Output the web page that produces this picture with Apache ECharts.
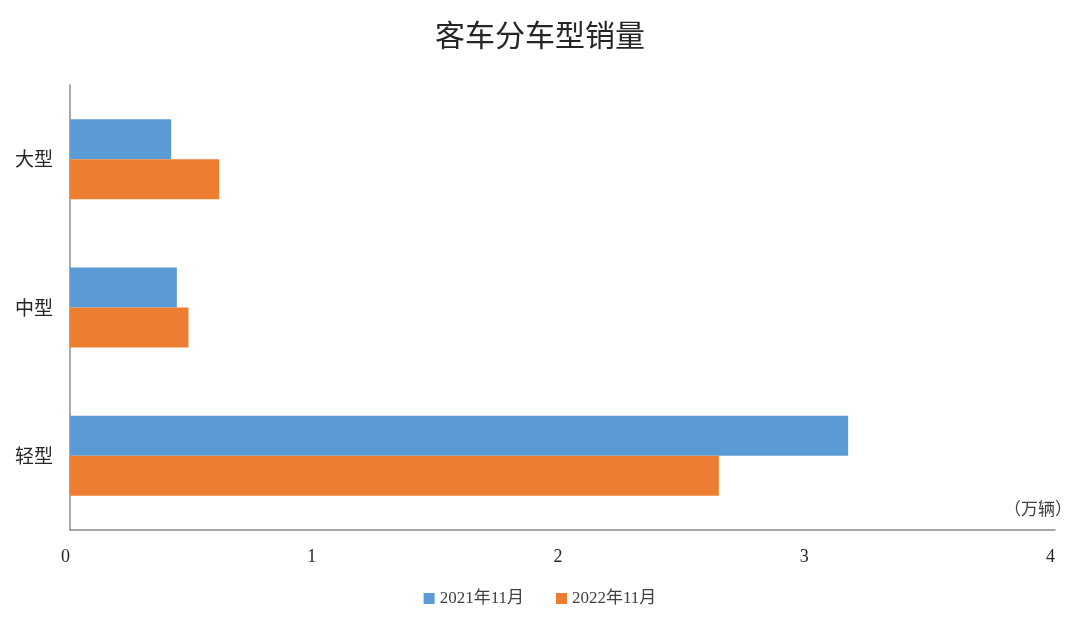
<!DOCTYPE html>
<html><head><meta charset="utf-8">
<script src="https://cdn.jsdelivr.net/npm/echarts@6/dist/echarts.min.js"></script>
<style>html,body{margin:0;padding:0;background:#fff}#c{width:1080px;height:622px}</style>
</head><body><div id="c"></div>
<script>
const categories = ['轻型', '中型', '大型'];
const series2021 = [3.16, 0.434, 0.411];
const series2022 = [2.635, 0.481, 0.606];
const seriesNames = ['2021年11月', '2022年11月'];
const xTicks = [0, 1, 2, 3, 4];

const FONT = '"Liberation Serif", "Noto Sans CJK SC", serif';
const chart = echarts.init(document.getElementById('c'));
chart.setOption({
  animation: false,
  backgroundColor: '#fff',
  title: {
    text: '客车分车型销量', left: 'center', top: 15,
    textStyle: { fontFamily: '"Noto Sans CJK SC"', fontSize: 30, fontWeight: 'normal', color: '#262626' }
  },
  legend: {
    bottom: 10, left: 'center', itemWidth: 11, itemHeight: 11, itemGap: 32,
    icon: 'rect',
    textStyle: { fontFamily: FONT, fontSize: 17, color: '#404040' },
    data: seriesNames
  },
  grid: { left: 70, right: 25, top: 85, bottom: 92 },
  xAxis: {
    type: 'value', min: xTicks[0], max: xTicks[xTicks.length - 1], interval: 1,
    axisLine: { show: true, lineStyle: { color: '#8c8c8c', width: 1.5 } },
    axisTick: { show: false },
    splitLine: { show: false },
    axisLabel: { margin: 18, fontFamily: FONT, fontSize: 18, color: '#262626', align: 'right' }
  },
  yAxis: {
    type: 'category', data: categories,
    axisLine: { show: true, lineStyle: { color: '#8c8c8c', width: 1.5 } },
    axisTick: { show: false },
    axisLabel: { margin: 17, fontFamily: '"Noto Sans CJK SC"', fontSize: 19, color: '#262626' }
  },
  graphic: [{
    type: 'text', right: 8, top: 500,
    style: { text: '（万辆）', font: '17px "Noto Sans CJK SC"', fill: '#404040' }
  }],
  series: [
    { name: seriesNames[0], type: 'bar', data: series2021, barWidth: 40, barGap: '0%',
      itemStyle: { color: '#5B9BD5' } },
    { name: seriesNames[1], type: 'bar', data: series2022, barWidth: 40, barGap: '0%',
      itemStyle: { color: '#ED7D31' } }
  ]
});
</script></body></html>
